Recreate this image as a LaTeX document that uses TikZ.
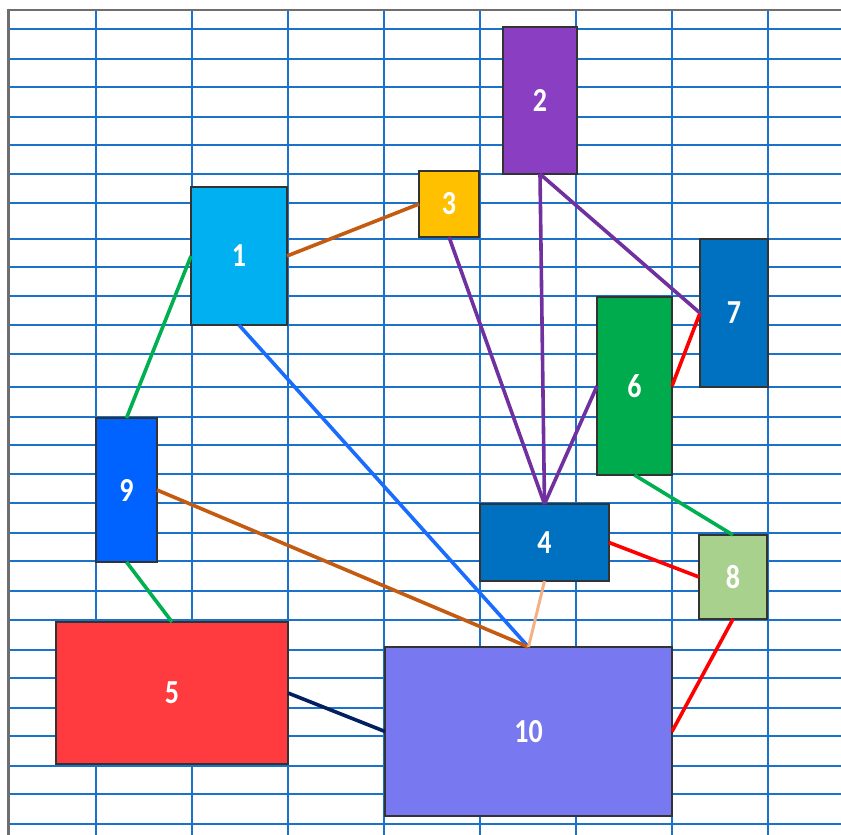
\documentclass[tikz,border=0pt]{standalone}
\usepackage{fontspec}
\setmainfont{Carlito}
\usepackage{graphicx}
\definecolor{gridblue}{HTML}{1A73C9}
\definecolor{frame}{HTML}{6E6E6E}
\definecolor{bcyan}{HTML}{00B0F0}
\definecolor{bpurple}{HTML}{8A3EC2}
\definecolor{bgold}{HTML}{FFC000}
\definecolor{bblue}{HTML}{0070C0}
\definecolor{bred}{HTML}{FF3B3F}
\definecolor{bgreen}{HTML}{00AB4E}
\definecolor{bsage}{HTML}{A9D18E}
\definecolor{broyal}{HTML}{0063FF}
\definecolor{blilac}{HTML}{7878F0}
\definecolor{lbrown}{HTML}{C55A11}
\definecolor{lgreen}{HTML}{00B050}
\definecolor{lblue}{HTML}{1A6CFF}
\definecolor{lnavy}{HTML}{002060}
\definecolor{lpeach}{HTML}{F4B183}
\definecolor{lred}{HTML}{FF0000}
\definecolor{lpurple}{HTML}{7030A0}
\tikzset{
  blk/.style={draw=black!80, line width=1.3pt, inner sep=0pt, outer sep=0pt,
              text=white, font=\fontsize{28}{28}\selectfont\bfseries},
  link/.style={line width=3.6pt},
  rule/.style={gridblue, line width=2pt},
}
\newcommand{\tall}[1]{\scalebox{1}[1.2]{#1}}

\begin{document}
\begin{tikzpicture}[x=1pt,y=-1pt]
  \useasboundingbox (0,0) rectangle (841,835);

  % griglia
  \foreach \y in {29,59,87,117,145,174,203,239,267,296,325,354,387,417,
                  445,474,503,533,561,591,620,650,678,708,736,766,794,824}
    \draw[rule] (9,\y) -- (841,\y);
  \foreach \x in {95.5,191.5,...,767.5}
    \draw[rule] (\x,10) -- (\x,835);

  % cornice
  \draw[frame, line width=2.4pt] (8.5,835) -- (8.5,10) -- (841,10);

  % blocchi
  \node[blk, fill=bcyan,   minimum width=96,  minimum height=138] (n1)  at (239,256)     {\tall{1}};
  \node[blk, fill=bpurple, minimum width=74,  minimum height=147] (n2)  at (540,100.5)   {\tall{2}};
  \node[blk, fill=bgold,   minimum width=60,  minimum height=66]  (n3)  at (449,204)     {\tall{3}};
  \node[blk, fill=bblue,   minimum width=129, minimum height=77]  (n4)  at (544.5,542.5) {\tall{4}};
  \node[blk, fill=bred,    minimum width=232, minimum height=142] (n5)  at (172,693)     {\tall{5}};
  \node[blk, fill=bgreen,  minimum width=75,  minimum height=178] (n6)  at (634.5,386)   {\tall{6}};
  \node[blk, fill=bblue,   minimum width=68,  minimum height=148] (n7)  at (734,313)     {\tall{7}};
  \node[blk, fill=bsage,   minimum width=68,  minimum height=84]  (n8)  at (733,577)     {\tall{8}};
  \node[blk, fill=broyal,  minimum width=61,  minimum height=144] (n9)  at (126.5,490)   {\tall{9}};
  \node[blk, fill=blilac,  minimum width=287, minimum height=169] (n10) at (528.5,731.5) {\tall{10}};

  % collegamenti
  \draw[link, lbrown]  (n1.east)  -- (n3.west);
  \draw[link, lgreen]  (n1.west)  -- (n9.north);
  \draw[link, lblue]   (n1.south) -- (n10.north);
  \draw[link, lbrown]  (n9.east)  -- (n10.north);
  \draw[link, lgreen]  (n9.south) -- (n5.north);
  \draw[link, lnavy]   (n5.east)  -- (n10.west);
  \draw[link, lpeach, line width=3pt] (n4.south) -- (n10.north);
  \draw[link, lred]    (n4.east)  -- (n8.west);
  \draw[link, lred]    (n8.south) -- (n10.east);
  \draw[link, lgreen]  (n6.south) -- (n8.north);
  \draw[link, lred]    (n6.east)  -- (n7.west);
  \draw[link, lpurple] (n2.south) -- (n7.west);
  \draw[link, lpurple] (n2.south) -- (n4.north);
  \draw[link, lpurple] (n3.south) -- (n4.north);
  \draw[link, lpurple] (n6.west)  -- (n4.north);
\end{tikzpicture}
\end{document}
